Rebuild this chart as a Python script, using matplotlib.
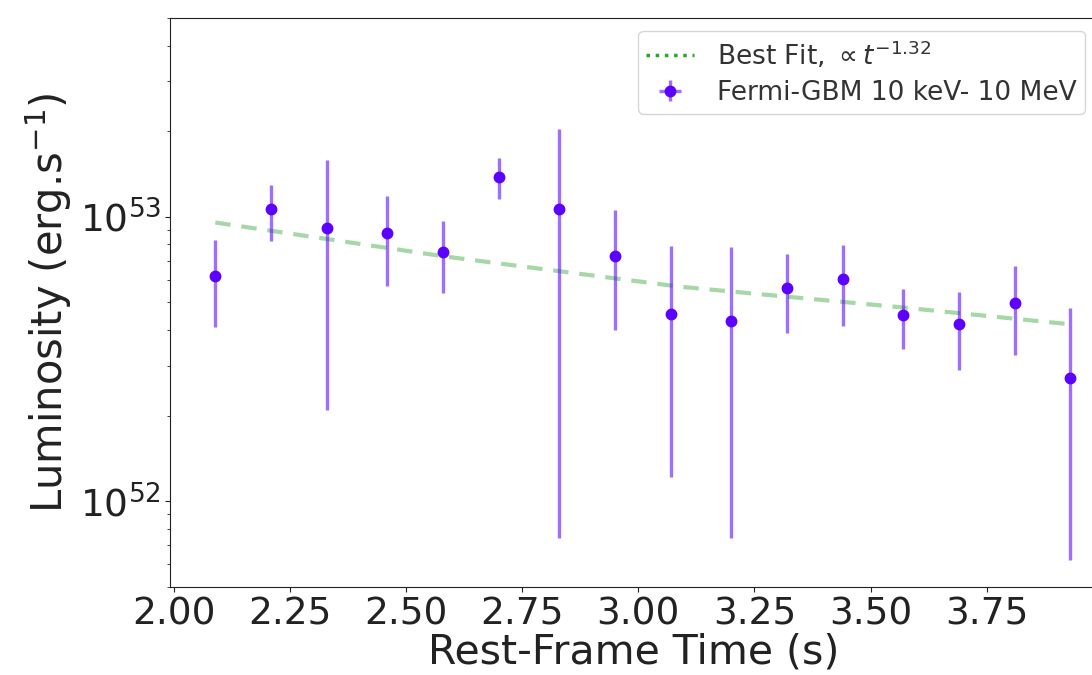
import numpy as np
import matplotlib.pyplot as plt
from matplotlib.lines import Line2D
from matplotlib.legend_handler import HandlerErrorbar

# rest-frame time (s) and luminosity (erg/s)
t = [2.09, 2.21, 2.33, 2.46, 2.58, 2.70, 2.83, 2.95,
     3.07, 3.20, 3.32, 3.44, 3.57, 3.69, 3.81, 3.93]
lum = [6.18e52, 1.064e53, 9.13e52, 8.77e52, 7.50e52, 1.383e53, 1.064e53, 7.31e52,
       4.54e52, 4.30e52, 5.63e52, 6.07e52, 4.51e52, 4.19e52, 4.96e52, 2.71e52]
lum_hi = [8.31e52, 1.294e53, 1.59e53, 1.184e53, 9.63e52, 1.604e53, 2.04e53, 1.058e53,
          7.87e52, 7.81e52, 7.42e52, 7.98e52, 5.56e52, 5.44e52, 6.74e52, 4.77e52]
lum_lo = [4.09e52, 8.20e52, 2.10e52, 5.71e52, 5.41e52, 1.153e53, 7.46e51, 4.00e52,
          1.22e52, 7.46e51, 3.92e52, 4.13e52, 3.43e52, 2.89e52, 3.27e52, 6.23e51]
t_err = [0.0] * len(t)

# best fit curve (power law ~ t^-1.32)
fit_t = [2.09, 2.58, 2.83, 3.09, 3.57, 3.93]
fit_lum = [9.55e52, 7.27e52, 6.44e52, 5.68e52, 4.80e52, 4.19e52]

lum = np.array(lum)
yerr = [lum - np.array(lum_lo), np.array(lum_hi) - lum]

fig = plt.figure(figsize=(10.92, 6.75), dpi=100)
ax = fig.add_axes([0.1557, 0.1304, 0.85, 0.843])

ax.plot(fit_t, fit_lum, color='#2ca02c', alpha=0.42, lw=3.0, ls=(0, (3.7, 2.6)))
eb = ax.errorbar(t, lum, yerr=yerr, xerr=t_err, fmt='o', color='#5c00ff', ms=7.5,
                 ecolor=(0.38, 0.05, 1.0, 0.6), elinewidth=2.4)

ax.set_yscale('log')
ax.set_ylim(5e51, 5e53)
ax.set_xlim(1.9925, 3.99)
ax.set_xticks([2.00, 2.25, 2.50, 2.75, 3.00, 3.25, 3.50, 3.75])
ax.set_xticklabels(['2.00', '2.25', '2.50', '2.75', '3.00', '3.25', '3.50', '3.75'])
ax.tick_params(axis='both', which='major', labelsize=27, colors='#222222', pad=3)
ax.tick_params(axis='y', which='minor', colors='#222222')

ax.set_xlabel('Rest-Frame Time (s)', fontsize=29.5, color='#222222', labelpad=0)
ax.set_ylabel('Luminosity (erg.s$^{-1}$)', fontsize=30, color='#222222', labelpad=4)

fit_handle = Line2D([], [], color='#22aa22', ls=':', lw=2.5)
ax.legend([fit_handle, eb],
          [r'Best Fit, $\propto t^{-1.32}$', 'Fermi-GBM 10 keV- 10 MeV'],
          loc='upper right', fontsize=19, labelcolor='#333333',
          handlelength=1.8, handletextpad=0.9, borderpad=0.3, labelspacing=0.35,
          handler_map={type(eb): HandlerErrorbar(xerr_size=0.4)})

for s in ax.spines.values():
    s.set_color('#222222')

fig.savefig('out.png', dpi=100)
